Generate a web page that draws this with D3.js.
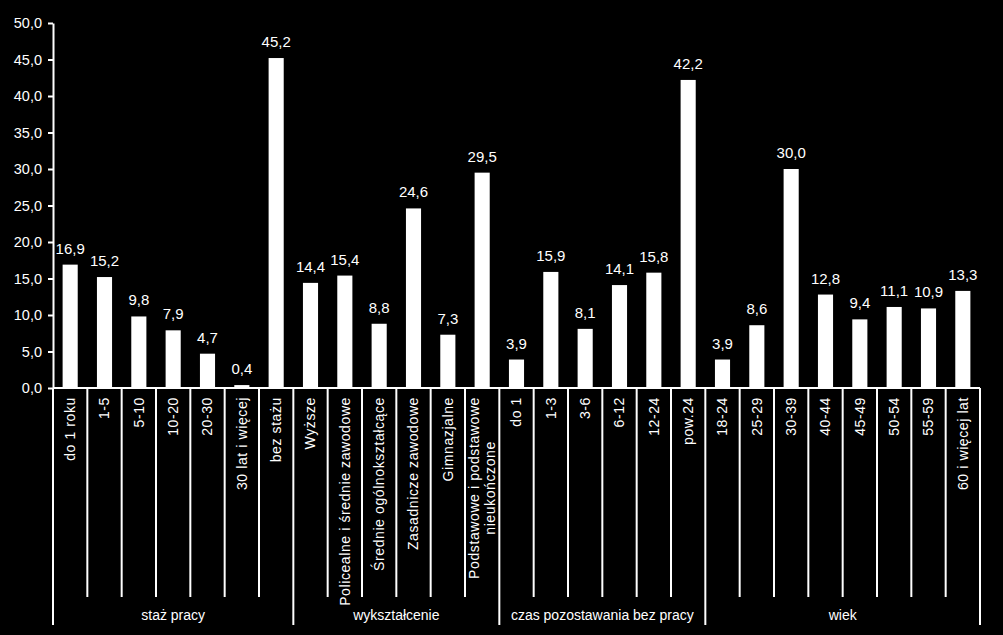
<!DOCTYPE html>
<html lang="pl">
<head>
  <meta charset="utf-8">
  <title>Bezrobotni</title>
  <script src="https://d3js.org/d3.v7.min.js"></script>
  <style>
    html, body { margin: 0; padding: 0; background: #000; }
    svg { display: block; }
    text { font-family: "Liberation Sans", Arial, sans-serif; fill: #fff; }
    .axis path, .axis line { stroke: #fff; stroke-width: 2; }
    .axis text { font-size: 14.5px; fill: #fff; }
    .sep { stroke: #fff; stroke-width: 2; }
  </style>
</head>
<body>
<div id="chart"></div>
<script>
"use strict"

var grupy = ["staż pracy", "wykształcenie", "czas pozostawania bez pracy", "wiek"];
var kategorie = [
  ["do 1 roku", "1-5", "5-10", "10-20", "20-30", "30 lat i więcej", "bez stażu"],
  ["Wyższe", "Policealne i średnie zawodowe", "Średnie ogólnokształcące", "Zasadnicze zawodowe", "Gimnazjalne", "Podstawowe i podstawowe|nieukończone"],
  ["do 1", "1-3", "3-6", "6-12", "12-24", "pow.24"],
  ["18-24", "25-29", "30-39", "40-44", "45-49", "50-54", "55-59", "60 i więcej lat"]
];
var wartosci = [
  [16.9, 15.2, 9.8, 7.9, 4.7, 0.4, 45.2],
  [14.4, 15.4, 8.8, 24.6, 7.3, 29.5],
  [3.9, 15.9, 8.1, 14.1, 15.8, 42.2],
  [3.9, 8.6, 30.0, 12.8, 9.4, 11.1, 10.9, 13.3]
];
var osY = [0, 5, 10, 15, 20, 25, 30, 35, 40, 45, 50];

var dane = [];
kategorie.forEach(function(lista, g) {
  lista.forEach(function(k, i) {
    dane.push({ id: g + "_" + i, grupa: g, nazwa: k, v: wartosci[g][i] });
  });
});

var W = 1003, H = 635;
var x0 = 53, x1 = 980, yTop = 23, yBot = 388;

var svg = d3.select("#chart").append("svg")
  .attr("width", W).attr("height", H);

var x = d3.scaleBand()
  .domain(dane.map(function(d) { return d.id; }))
  .range([x0, x1])
  .paddingInner(0.56)
  .paddingOuter(0.28);

var y = d3.scaleLinear().domain([0, 50]).range([yBot, yTop]);

var fmt = function(v) { return d3.format(".1f")(v).replace(".", ","); };

// oś Y
var gy = svg.append("g")
  .attr("class", "axis")
  .attr("transform", "translate(" + x0 + ",0)")
  .call(d3.axisLeft(y).tickValues(osY).tickSize(5).tickSizeOuter(0).tickFormat(fmt));
gy.selectAll("text").attr("dx", "-3");

// słupki
svg.selectAll("rect.bar")
  .data(dane)
  .enter().append("rect")
    .attr("class", "bar")
    .attr("x", function(d) { return x(d.id); })
    .attr("width", x.bandwidth())
    .attr("y", function(d) { return y(d.v); })
    .attr("height", function(d) { return yBot - y(d.v); })
    .attr("fill", "#fff");

svg.selectAll("text.val")
  .data(dane)
  .enter().append("text")
    .attr("class", "val")
    .attr("x", function(d) { return x(d.id) + x.bandwidth() / 2; })
    .attr("y", function(d) { return y(d.v) - 11; })
    .attr("text-anchor", "middle")
    .style("font-size", "15px")
    .text(function(d) { return fmt(d.v); });

// oś X
svg.append("line").attr("class", "sep")
  .attr("x1", x0).attr("x2", x1).attr("y1", yBot).attr("y2", yBot);

var step = x.step();
var catY = 597, grpY = 625;

dane.forEach(function(d, i) {
  var left = x0 + i * step;
  var cx = left + step / 2;
  var lines = d.nazwa.split("|");
  var t = svg.append("text")
    .attr("transform", "translate(" + cx + "," + (yBot + 9) + ") rotate(-90)")
    .attr("text-anchor", "end")
    .style("font-size", "14px")
    .style("letter-spacing", "0.6px");
  lines.forEach(function(l, j) {
    t.append("tspan")
      .attr("x", 0)
      .attr("dy", j === 0 ? (0.35 - (lines.length - 1) * 0.55) + "em" : "1.1em")
      .text(l);
  });
  if (lines.length > 1) {
    var w0 = t.node().getBBox().width;
    t.selectAll("tspan").attr("text-anchor", "middle").attr("x", -w0 / 2);
  }
});

// linie podziału kategorii i grup
var idx = 0;
kategorie.forEach(function(lista, g) {
  var gl = x0 + idx * step;
  var gr = x0 + (idx + lista.length) * step;
  svg.append("line").attr("class", "sep")
    .attr("x1", gl).attr("x2", gl).attr("y1", yBot).attr("y2", grpY);
  for (var i = 1; i < lista.length; i++) {
    var lx = x0 + (idx + i) * step;
    svg.append("line").attr("class", "sep")
      .attr("x1", lx).attr("x2", lx).attr("y1", yBot).attr("y2", catY);
  }
  svg.append("text")
    .attr("x", (gl + gr) / 2)
    .attr("y", 620)
    .attr("text-anchor", "middle")
    .style("font-size", "14px")
    .text(grupy[g]);
  idx += lista.length;
});
svg.append("line").attr("class", "sep")
  .attr("x1", x1).attr("x2", x1).attr("y1", yBot).attr("y2", grpY);
</script>
</body>
</html>
